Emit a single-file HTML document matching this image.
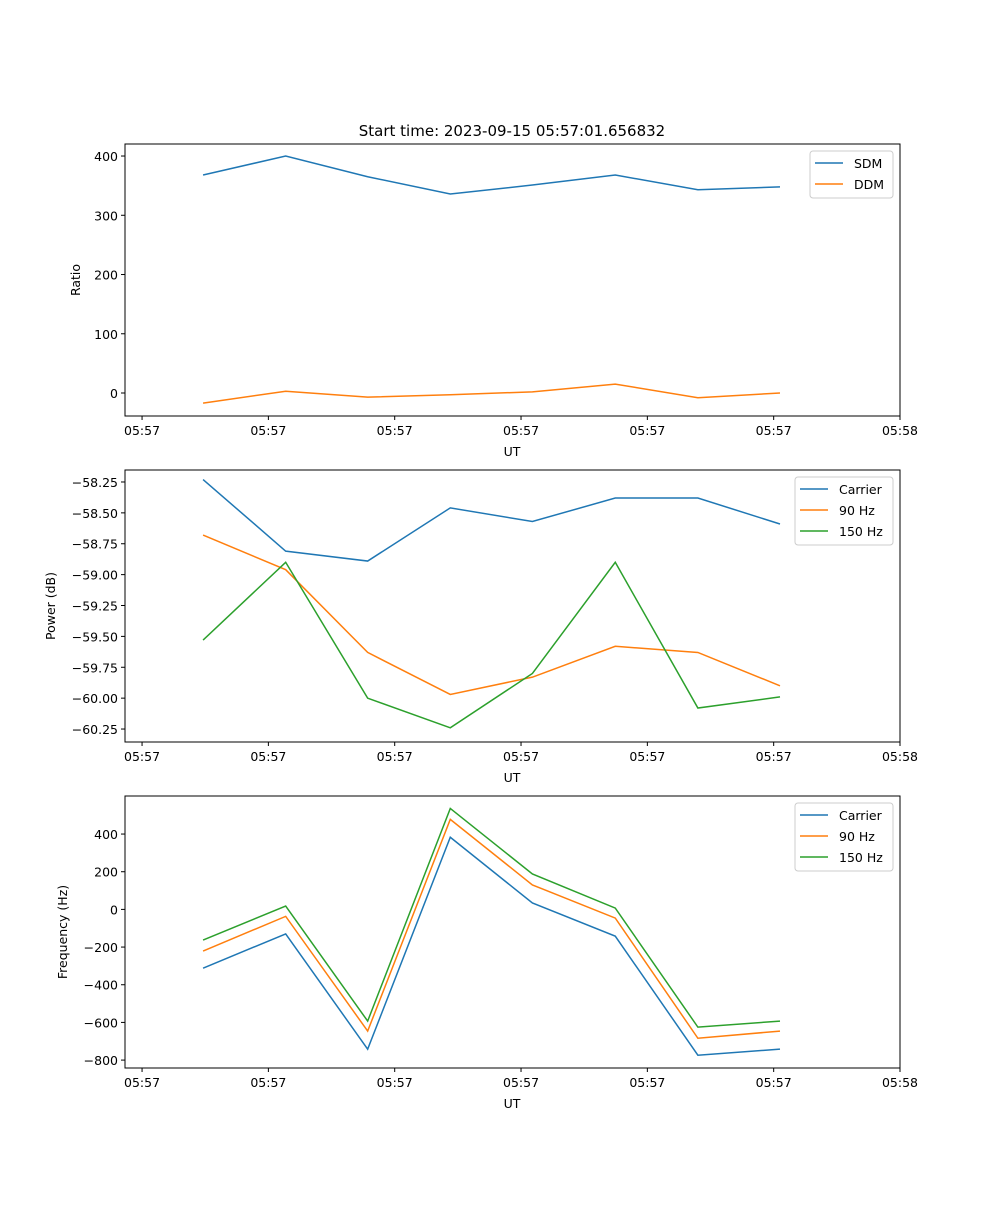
<!DOCTYPE html>
<html><head><meta charset="utf-8"><style>
body{margin:0;background:#fff}
svg text{font-family:"DejaVu Sans","Liberation Sans",sans-serif;font-size:12.5px;fill:#000}
</style></head><body>
<svg id="c" width="1000" height="1200" xmlns="http://www.w3.org/2000/svg">
<text x="512" y="136" text-anchor="middle" style="font-size:15px">Start time: 2023-09-15 05:57:01.656832</text>
</svg>
<script>
const xTickLabels=["05:57","05:57","05:57","05:57","05:57","05:57","05:58"];
const xTickPos=[0,1,2,3,4,5,6];
const times=[0.483,1.137,1.786,2.44,3.09,3.746,4.40,5.05];
const sdm=[368,400,365,336,351,368,343,348];
const ddm=[-17,3,-7,-3,2,15,-8,0];
const pCarrier=[-58.23,-58.81,-58.89,-58.46,-58.57,-58.38,-58.38,-58.59];
const p90=[-58.68,-58.96,-59.63,-59.97,-59.83,-59.58,-59.63,-59.90];
const p150=[-59.53,-58.90,-60.00,-60.24,-59.80,-58.90,-60.08,-59.99];
const fCarrier=[-312,-130,-742,383,34,-142,-774,-742];
const f90=[-221,-37,-646,478,130,-46,-684,-646];
const f150=[-163,18,-593,536,188,7,-625,-593];
const ticks1=[0,100,200,300,400];
const ticks2=[-60.25,-60.00,-59.75,-59.50,-59.25,-59.00,-58.75,-58.50,-58.25];
const ticks3=[-800,-600,-400,-200,0,200,400];
const NS="http://www.w3.org/2000/svg";
const svg=document.getElementById('c');
function mk(t,a,p){const e=document.createElementNS(NS,t);for(const k in a)e.setAttribute(k,a[k]);(p||svg).appendChild(e);return e;}
const L=125,R=900,xmin=-0.135,xmax=6.0;
const xs=v=>L+(v-xmin)/(xmax-xmin)*(R-L);
function panel(name,top,bot,ymin,ymax,yt,fmt,ylabel,series,legend){
  const g=mk('g',{});
  
  
  const ys=v=>bot-(v-ymin)/(ymax-ymin)*(bot-top);
  series.forEach(s=>{
    const p=mk('polyline',{points:s.d.map((v,i)=>xs(times[i])+','+ys(v)).join(' '),fill:'none',stroke:s.c,'stroke-width':1.5},g);
    
    
  });
  mk('rect',{x:L,y:top,width:R-L,height:bot-top,fill:'none',stroke:'#000','stroke-width':1},g);
  xTickPos.forEach((t,i)=>{const x=xs(t);mk('line',{x1:x,x2:x,y1:bot,y2:bot+4,stroke:'#000'},g);
    const tx=mk('text',{x:x,y:bot+19,'text-anchor':'middle'},g);tx.textContent=xTickLabels[i];
    
    });
  const xl=mk('text',{x:512,y:bot+40,'text-anchor':'middle'},g);xl.textContent='UT';
  
  
  yt.forEach(t=>{const y=ys(t);mk('line',{x1:L-4,x2:L,y1:y,y2:y,stroke:'#000'},g);
    const tx=mk('text',{x:L-7,y:y+5,'text-anchor':'end'},g);tx.textContent=fmt(t);
    
    });
  const yl=mk('text',{x:0,y:0,'text-anchor':'middle',transform:`translate(${legend.yx},${(top+bot)/2}) rotate(-90)`},g);yl.textContent=ylabel;
  
  
  const lg=mk('g',{},g);
  
  
  const h=series.length*21+5;
  mk('rect',{x:legend.x,y:top+7,width:R-7-legend.x,height:h,fill:'#fff',stroke:'#ccc',rx:3},lg);
  series.forEach((s,i)=>{const y=top+19+i*21;
    mk('line',{x1:legend.x+5,x2:legend.x+33,y1:y,y2:y,stroke:s.c,'stroke-width':1.5},lg);
    const tx=mk('text',{x:legend.x+44,y:y+5},lg);tx.textContent=s.l;
    
    });
}
const minus=s=>s.replace('-','\u2212');
panel('ratio-panel',144,416,-38.8,420.3,ticks1,t=>minus(String(t)),'Ratio',
 [{d:sdm,c:'#1f77b4',l:'SDM',n:'sdm-line'},{d:ddm,c:'#ff7f0e',l:'DDM',n:'ddm-line'}],{x:810,yx:80});
panel('power-panel',470,742,-60.355,-58.153,ticks2,t=>minus(t.toFixed(2)),'Power (dB)',
 [{d:pCarrier,c:'#1f77b4',l:'Carrier',n:'power-carrier-line'},{d:p90,c:'#ff7f0e',l:'90 Hz',n:'power-90hz-line'},{d:p150,c:'#2ca02c',l:'150 Hz',n:'power-150hz-line'}],{x:795,yx:55});
panel('frequency-panel',796,1068,-842,602,ticks3,t=>minus(String(t)),'Frequency (Hz)',
 [{d:fCarrier,c:'#1f77b4',l:'Carrier',n:'freq-carrier-line'},{d:f90,c:'#ff7f0e',l:'90 Hz',n:'freq-90hz-line'},{d:f150,c:'#2ca02c',l:'150 Hz',n:'freq-150hz-line'}],{x:795,yx:67});
</script>
</body></html>
